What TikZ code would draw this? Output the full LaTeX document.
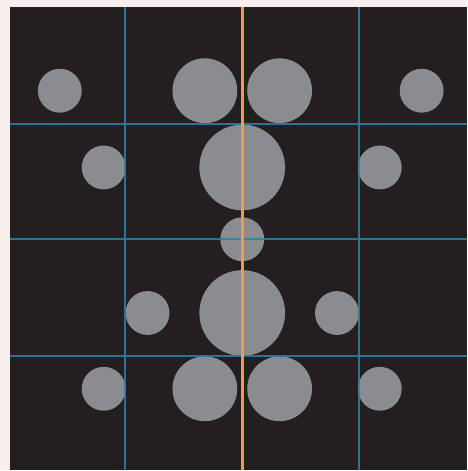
\documentclass[tikz,border=0pt]{standalone}
\usetikzlibrary{calc}
\definecolor{bgdark}{HTML}{231E20}
\definecolor{disc}{HTML}{8B8C90}
\definecolor{gridblue}{HTML}{2A82AC}
\definecolor{axisorange}{HTML}{F39A45}
\definecolor{paper}{HTML}{F8EFED}

\begin{document}
\begin{tikzpicture}[x=0.5mm,y=-0.5mm]
    \fill[paper] (0,0) rectangle (468,471);
    \fill[bgdark] (10,7) rectangle (468,471);
    \coordinate (A) at (243,91);
    \coordinate (B) at (243,168);
    \coordinate (C) at (243,240);
    \coordinate (D) at (243,314);
    \coordinate (E) at (243,390);
    % outer small discs
    \fill[disc] (60,91) circle (22);
    \fill[disc] (423,91) circle (22);
    \fill[disc] (104,168) circle (22);
    \fill[disc] (381,168) circle (22);
    \fill[disc] (148,314) circle (22);
    \fill[disc] (338,314) circle (22);
    \fill[disc] (104,390) circle (22);
    \fill[disc] (381,390) circle (22);
    % discs along the axis
    \fill[disc] ($(A)+(-37.5,0)$) circle (32.5);
    \fill[disc] ($(A)+(37.5,0)$) circle (32.5);
    \fill[disc] (B) circle (43);
    \fill[disc] (C) circle (22);
    \fill[disc] (D) circle (43);
    \fill[disc] ($(E)+(-37.5,0)$) circle (32.5);
    \fill[disc] ($(E)+(37.5,0)$) circle (32.5);
    % grid
    \draw[gridblue,line width=1mm,opacity=0.85] (125,7) -- (125,471);
    \draw[gridblue,line width=1mm,opacity=0.85] (360,7) -- (360,471);
    \draw[gridblue,line width=1mm,opacity=0.85] (10,124) -- (468,124);
    \draw[gridblue,line width=1mm,opacity=0.85] (10,240) -- (468,240);
    \draw[gridblue,line width=1mm,opacity=0.85] (10,357) -- (468,357);
    \draw[axisorange,line width=1.5mm] (243,7) -- (243,471);
  \end{tikzpicture}
\end{document}
